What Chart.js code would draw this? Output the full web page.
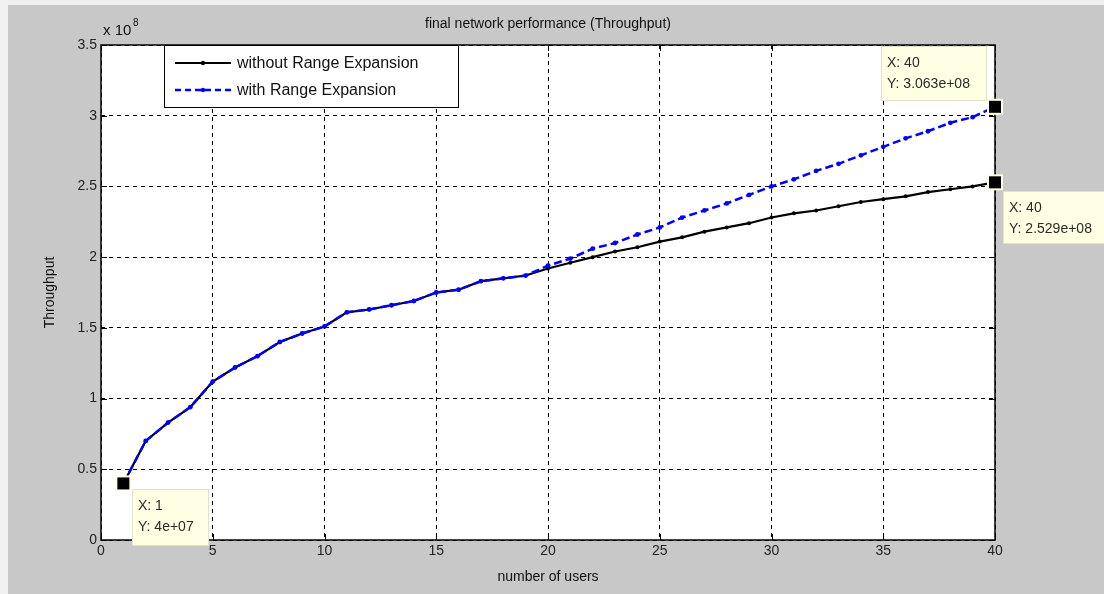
<!DOCTYPE html>
<html>
<head>
<meta charset="utf-8">
<script src="https://cdn.jsdelivr.net/npm/chart.js@4"></script>
<style>
  body { margin: 0; background: #f0f0f0; }
  #wrap { position: relative; width: 1104px; height: 594px; }
</style>
</head>
<body>
<div id="wrap"><canvas id="perf" width="1104" height="594"></canvas></div>
<script>
// number of users
const users = [];
for (let i = 1; i <= 40; i++) users.push(i);

// throughput, in units of 1e8
const withoutRE = [0.40, 0.70, 0.83, 0.94, 1.12, 1.22, 1.30, 1.40, 1.46, 1.51,
                   1.61, 1.63, 1.66, 1.69, 1.75, 1.77, 1.83, 1.85, 1.87, 1.92,
                   1.96, 2.00, 2.04, 2.07, 2.11, 2.14, 2.18, 2.21, 2.24, 2.28,
                   2.31, 2.33, 2.36, 2.39, 2.41, 2.43, 2.46, 2.48, 2.50, 2.529];
const withRE    = [0.40, 0.70, 0.83, 0.94, 1.12, 1.22, 1.30, 1.40, 1.46, 1.51,
                   1.61, 1.63, 1.66, 1.69, 1.75, 1.77, 1.83, 1.85, 1.87, 1.94,
                   1.99, 2.06, 2.10, 2.16, 2.21, 2.28, 2.33, 2.38, 2.44, 2.50,
                   2.55, 2.61, 2.66, 2.72, 2.78, 2.84, 2.89, 2.95, 2.99, 3.063];
const SCALE = 1e8;

const xTicks = [0, 5, 10, 15, 20, 25, 30, 35, 40];
const yTicks = [0, 0.5, 1, 1.5, 2, 2.5, 3, 3.5];

const FONT = "'Liberation Sans', Arial, sans-serif";

function fmt4g(v) {
    let s = v.toExponential(3);
    let parts = s.split('e');
    let m = parts[0].replace(/\.?0+$/, '');
    let e = parseInt(parts[1], 10);
    let sign = e < 0 ? '-' : '+';
    e = Math.abs(e);
    return m + 'e' + sign + (e < 10 ? '0' + e : e);
}

// datatips: dataset index, point index, box placement relative to the point
const tips = [
    { ds: 0, idx: 0,  dx: 9,    dy: 6,   w: 76,  h: 56 },
    { ds: 1, idx: 39, dx: -114, dy: -61, w: 105, h: 54 },
    { ds: 0, idx: 39, dx: 8,    dy: 9,   w: 108, h: 52 }
];

const matlabLook = {
    id: 'matlabLook',
    beforeDraw(chart) {
        const ctx = chart.ctx;
        const a = chart.chartArea;
        ctx.save();
        ctx.fillStyle = '#c8c8c8';
        ctx.fillRect(8, 5, chart.width - 8, chart.height - 5);
        ctx.fillStyle = '#ffffff';
        ctx.fillRect(a.left, a.top, a.right - a.left, a.bottom - a.top);
        ctx.restore();
    },
    afterDatasetsDraw(chart) {
        const ctx = chart.ctx;
        const a = chart.chartArea;
        const xs = chart.scales.x, ys = chart.scales.y;
        ctx.save();
        // frame
        ctx.strokeStyle = '#000';
        ctx.lineWidth = 1.5;
        ctx.strokeRect(a.left, a.top, a.right - a.left, a.bottom - a.top);
        // inward ticks
        ctx.lineWidth = 1;
        ctx.beginPath();
        xTicks.forEach(t => {
            const px = Math.round(xs.getPixelForValue(t)) + 0.5;
            ctx.moveTo(px, a.bottom); ctx.lineTo(px, a.bottom - 6);
            ctx.moveTo(px, a.top); ctx.lineTo(px, a.top + 6);
        });
        yTicks.forEach(t => {
            const py = Math.round(ys.getPixelForValue(t)) + 0.5;
            ctx.moveTo(a.left, py); ctx.lineTo(a.left + 6, py);
            ctx.moveTo(a.right, py); ctx.lineTo(a.right - 6, py);
        });
        ctx.stroke();

        // title
        ctx.fillStyle = '#111';
        ctx.font = '14px ' + FONT;
        ctx.textAlign = 'center';
        ctx.textBaseline = 'middle';
        ctx.fillText('final network performance (Throughput)', (a.left + a.right) / 2, a.top - 21);
        // exponent label
        ctx.textAlign = 'left';
        ctx.font = '15px ' + FONT;
        ctx.fillText('x 10', a.left + 2, a.top - 14);
        ctx.font = '10px ' + FONT;
        ctx.fillText('8', a.left + 32, a.top - 22);

        // legend
        const lx = a.left + 63, ly = a.top, lw = 294, lh = 62;
        ctx.fillStyle = '#fff';
        ctx.fillRect(lx, ly, lw, lh);
        ctx.strokeStyle = '#000';
        ctx.lineWidth = 1;
        ctx.strokeRect(lx + 0.5, ly + 0.5, lw, lh);
        const entries = [
            { text: 'without Range Expansion', color: '#000', dash: [], width: 2.2, y: ly + 18 },
            { text: 'with Range Expansion', color: '#0000ff', dash: [6, 4], width: 2.5, y: ly + 45 }
        ];
        entries.forEach(e => {
            ctx.strokeStyle = e.color;
            ctx.lineWidth = e.width;
            ctx.setLineDash(e.dash);
            ctx.beginPath();
            ctx.moveTo(lx + 11, e.y);
            ctx.lineTo(lx + 67, e.y);
            ctx.stroke();
            ctx.setLineDash([]);
            ctx.fillStyle = e.color;
            ctx.beginPath();
            ctx.arc(lx + 39, e.y, 2.2, 0, Math.PI * 2);
            ctx.fill();
            ctx.fillStyle = '#111';
            ctx.font = '16px ' + FONT;
            ctx.textAlign = 'left';
            ctx.textBaseline = 'middle';
            ctx.fillText(e.text, lx + 73, e.y + 1);
        });
        ctx.restore();
    },
    afterDraw(chart) {
        const ctx = chart.ctx;
        ctx.save();
        tips.forEach(t => {
            const pt = chart.getDatasetMeta(t.ds).data[t.idx];
            const px = pt.x, py = pt.y;
            const xv = users[t.idx];
            const yv = chart.data.datasets[t.ds].data[t.idx] * SCALE;
            // box
            const bx = Math.round(px + t.dx), by = Math.round(py + t.dy);
            ctx.fillStyle = '#ffffe3';
            ctx.fillRect(bx, by, t.w, t.h);
            ctx.strokeStyle = '#e3e3cc';
            ctx.lineWidth = 1;
            ctx.strokeRect(bx + 0.5, by + 0.5, t.w, t.h);
            ctx.fillStyle = '#2a2a2a';
            ctx.font = '14px ' + FONT;
            ctx.textAlign = 'left';
            ctx.textBaseline = 'middle';
            ctx.fillText('X: ' + xv, bx + 6, by + 17);
            ctx.fillText('Y: ' + fmt4g(yv), bx + 6, by + 38);
            // marker square
            ctx.fillStyle = '#ffffe3';
            ctx.fillRect(px - 8, py - 8, 16, 16);
            ctx.fillStyle = '#000';
            ctx.fillRect(px - 6, py - 6, 12, 12);
        });
        ctx.restore();
    }
};

new Chart(document.getElementById('perf').getContext('2d'), {
    type: 'line',
    data: {
        labels: users,
        datasets: [
            {
                label: 'without Range Expansion',
                data: withoutRE,
                borderColor: '#000000',
                backgroundColor: '#000000',
                borderWidth: 2.2,
                pointRadius: 2,
                pointBorderWidth: 0,
                pointBackgroundColor: '#000000',
                tension: 0,
                order: 2
            },
            {
                label: 'with Range Expansion',
                data: withRE,
                borderColor: '#0000ff',
                backgroundColor: '#0000ff',
                borderWidth: 2.5,
                borderDash: [8, 4],
                pointRadius: 2.4,
                pointBorderWidth: 0,
                pointBackgroundColor: '#0000ff',
                tension: 0,
                order: 1
            }
        ]
    },
    options: {
        responsive: false,
        animation: false,
        layout: { padding: { top: 45, right: 109, left: 0, bottom: 0 } },
        plugins: {
            legend: { display: false },
            tooltip: { enabled: false },
            title: { display: false }
        },
        scales: {
            x: {
                type: 'linear',
                min: 0,
                max: 40,
                afterFit: s => { s.height = 54; },
                afterBuildTicks: s => { s.ticks = xTicks.map(v => ({ value: v })); },
                ticks: { color: '#222', font: { family: FONT, size: 14 }, padding: 3, maxRotation: 0,
                         callback: v => String(v) },
                grid: { color: '#000', lineWidth: 1, drawTicks: false },
                border: { display: false, dash: [4, 4] },
                title: {
                    display: true,
                    text: 'number of users',
                    color: '#111',
                    font: { family: FONT, size: 14 },
                    padding: { top: 0, bottom: 8 }
                }
            },
            y: {
                type: 'linear',
                min: 0,
                max: 3.5,
                afterFit: s => { s.width = 101; },
                afterBuildTicks: s => { s.ticks = yTicks.map(v => ({ value: v })); },
                ticks: { color: '#222', font: { family: FONT, size: 14 }, padding: 4,
                         callback: v => String(v) },
                grid: { color: '#000', lineWidth: 1, drawTicks: false },
                border: { display: false, dash: [4, 4] },
                title: {
                    display: true,
                    text: 'Throughput',
                    color: '#111',
                    font: { family: FONT, size: 14 },
                    padding: { top: 42, bottom: 0 }
                }
            }
        }
    },
    plugins: [matlabLook]
});
</script>
</body>
</html>
